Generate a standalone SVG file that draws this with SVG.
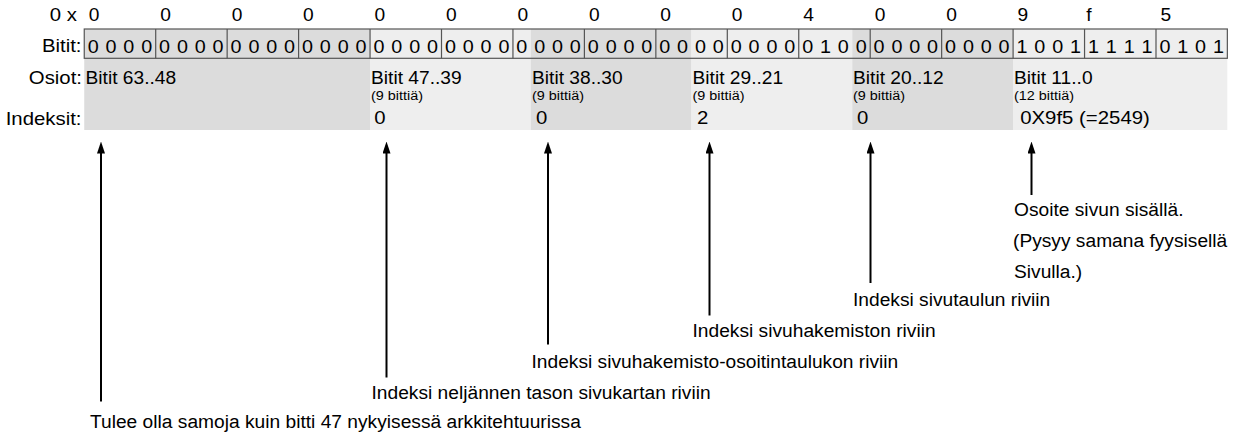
<svg xmlns="http://www.w3.org/2000/svg" width="1235" height="439" viewBox="0 0 1235 439">
<defs>
<marker id="ah" markerUnits="userSpaceOnUse" markerWidth="12" markerHeight="8" refX="2" refY="4" orient="auto"><path d="M0,0 L12,4 L0,8 z" fill="#000"/></marker>
<style>
text{font-family:"Liberation Sans",Arial,sans-serif;fill:#000}
.lbl{font-size:18px}
.hd{font-size:19.1px;text-anchor:end}
.bit{font-size:18.56px;letter-spacing:0.63px}
.sm{font-size:13.5px}
.idx{font-size:19.1px}
.dk{fill:#dcdcdc}
.lt{fill:#eeeeee}
.grid{fill:none;stroke:#555;stroke-width:1.2}
#connectors line{stroke:#000;stroke-width:2;marker-end:url(#ah)}
</style>
</defs>
<rect width="1235" height="439" fill="#fff"/>
<g id="sections">
<rect id="sec-63-48" class="dk" x="84.25" y="29" width="285.75" height="101"/>
<rect id="sec-47-39" class="lt" x="370" y="29" width="160.8" height="101"/>
<rect id="sec-38-30" class="dk" x="530.8" y="29" width="160.7" height="101"/>
<rect id="sec-29-21" class="lt" x="691.5" y="29" width="160.7" height="101"/>
<rect id="sec-20-12" class="dk" x="852.2" y="29" width="160.8" height="101"/>
<rect id="sec-11-0" class="lt" x="1013" y="29" width="214.3" height="101"/>
</g>
<g id="bit-table">
<rect class="grid" x="84.25" y="29" width="1143.1" height="29.3"/>
<path class="grid" d="M155.7,29V58.3M227.15,29V58.3M298.6,29V58.3M370.05,29V58.3M441.5,29V58.3M512.95,29V58.3M584.4,29V58.3M655.85,29V58.3M727.3,29V58.3M798.75,29V58.3M870.2,29V58.3M941.65,29V58.3M1013.1,29V58.3M1084.55,29V58.3M1156,29V58.3"/>
</g>
<g id="texts" transform="scale(1.06667,1)">
<text class="hd" x="72.2" y="21.5">0 x</text>
<g id="hex" class="lbl">
<text x="83.2" y="21.5">0</text><text x="150.19" y="21.5">0</text><text x="217.17" y="21.5">0</text><text x="284.15" y="21.5">0</text>
<text x="351.15" y="21.5">0</text><text x="418.13" y="21.5">0</text><text x="485.11" y="21.5">0</text><text x="552.09" y="21.5">0</text>
<text x="619.08" y="21.5">0</text><text x="686.06" y="21.5">0</text><text x="753.05" y="21.5">4</text><text x="820.04" y="21.5">0</text>
<text x="887.02" y="21.5">0</text><text x="954" y="21.5">9</text><text x="1018.41" y="21.5">f</text><text x="1087.97" y="21.5">5</text>
</g>
<text class="hd" x="76.41" y="52.5">Bitit:</text>
<g id="bits" class="bit">
<text x="82.17" y="53">0 0 0 0</text><text x="149.15" y="53">0 0 0 0</text><text x="216.15" y="53">0 0 0 0</text><text x="283.13" y="53">0 0 0 0</text>
<text x="350.11" y="53">0 0 0 0</text><text x="417.09" y="53">0 0 0 0</text><text x="484.08" y="53">0 0 0 0</text><text x="551.06" y="53">0 0 0 0</text>
<text x="618.05" y="53">0 0 0 0</text><text x="685.04" y="53">0 0 0 0</text><text x="752.02" y="53">0 1 0 0</text><text x="819" y="53">0 0 0 0</text>
<text x="885.98" y="53">0 0 0 0</text><text x="952.97" y="53">1 0 0 1</text><text x="1019.96" y="53">1 1 1 1</text><text x="1086.94" y="53">0 1 0 1</text>
</g>
<text class="hd" x="76.87" y="84.5">Osiot:</text>
<text class="hd" x="76.41" y="125">Indeksit:</text>
<g id="node-63-48"><text class="lbl" x="80.16" y="84.5">Bitit 63..48</text></g>
<g id="node-47-39"><text class="lbl" x="347.82" y="84.5">Bitit 47..39</text><text class="sm" x="347.82" y="100.5">(9 bittiä)</text><text class="idx" x="350.81" y="124">0</text></g>
<g id="node-38-30"><text class="lbl" x="498.75" y="84.5">Bitit 38..30</text><text class="sm" x="498.75" y="100.5">(9 bittiä)</text><text class="idx" x="502.4" y="124">0</text></g>
<g id="node-29-21"><text class="lbl" x="649.22" y="84.5">Bitit 29..21</text><text class="sm" x="649.22" y="100.5">(9 bittiä)</text><text class="idx" x="653.43" y="124">2</text></g>
<g id="node-20-12"><text class="lbl" x="799.68" y="84.5">Bitit 20..12</text><text class="sm" x="799.68" y="100.5">(9 bittiä)</text><text class="idx" x="803.34" y="124">0</text></g>
<g id="node-11-0"><text class="lbl" x="950.63" y="84.5">Bitit 11..0</text><text class="sm" x="950.63" y="100.5">(12 bittiä)</text><text class="idx" x="956.44" y="124">0X9f5 (=2549)</text></g>
<g id="ann-1"><text class="lbl" x="84.38" y="428.5">Tulee olla samoja kuin bitti 47 nykyisessä arkkitehtuurissa</text></g>
<g id="ann-2"><text class="lbl" x="348.28" y="399.5">Indeksi neljännen tason sivukartan riviin</text></g>
<g id="ann-3"><text class="lbl" x="498.29" y="368.5">Indeksi sivuhakemisto-osoitintaulukon riviin</text></g>
<g id="ann-4"><text class="lbl" x="649.22" y="337.5">Indeksi sivuhakemiston riviin</text></g>
<g id="ann-5"><text class="lbl" x="799.68" y="306.5">Indeksi sivutaulun riviin</text></g>
<g id="ann-6"><text class="lbl" x="950.63" y="216.5">Osoite sivun sisällä.</text><text class="lbl" x="949.69" y="247.5">(Pysyy samana fyysisellä</text><text class="lbl" x="950.63" y="278.5">Sivulla.)</text></g>
</g>
<g id="connectors">
<line x1="101" y1="401.5" x2="101" y2="151.5"/>
<line x1="386.5" y1="377.5" x2="386.5" y2="151.5"/>
<line x1="548" y1="344.5" x2="548" y2="151.5"/>
<line x1="709.5" y1="315.5" x2="709.5" y2="151.5"/>
<line x1="870.5" y1="283" x2="870.5" y2="151.5"/>
<line x1="1031.5" y1="195" x2="1031.5" y2="151.5"/>
</g>
</svg>
